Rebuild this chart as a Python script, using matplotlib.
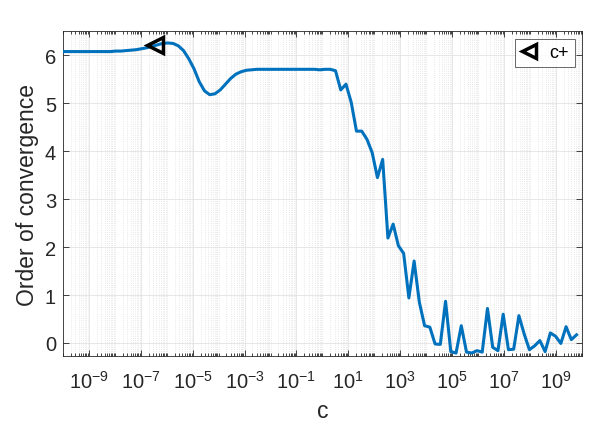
import numpy as np
import matplotlib
matplotlib.use("Agg")
import matplotlib.pyplot as plt
from matplotlib.ticker import LogLocator, FixedLocator, FuncFormatter, NullFormatter

plt.rcParams['font.family'] = ['Liberation Sans', 'DejaVu Sans']
plt.rcParams['mathtext.fontset'] = 'custom'
plt.rcParams['mathtext.rm'] = 'Liberation Sans'
plt.rcParams['mathtext.it'] = 'Liberation Sans:italic'
plt.rcParams['mathtext.bf'] = 'Liberation Sans:bold'

# ---- data ----
c = np.logspace(-10, 10, 100)
order = [
    6.08, 6.08, 6.08, 6.08, 6.08, 6.08, 6.08, 6.08, 6.08, 6.08,   # 0-9
    6.09, 6.09, 6.10, 6.11, 6.12, 6.14, 6.16, 6.19, 6.22, 6.25,   # 10-19
    6.26, 6.25, 6.20, 6.10, 5.93, 5.72, 5.45, 5.26, 5.18, 5.20,   # 20-29
    5.28, 5.40, 5.52, 5.61, 5.66, 5.69, 5.70, 5.71, 5.71, 5.71,   # 30-39
    5.71, 5.71, 5.71, 5.71, 5.71, 5.71, 5.71, 5.71, 5.71, 5.70,   # 40-49
    5.71, 5.71, 5.68, 5.28, 5.40, 5.02, 4.42, 4.42, 4.25, 3.97,   # 50-59
    3.45, 3.83, 2.19, 2.48, 2.03, 1.87, 0.94, 1.71, 0.85, 0.36,   # 60-69
    0.33, -0.02, -0.03, 0.87, -0.18, -0.21, 0.36, -0.19, -0.21, -0.16,  # 70-79
    -0.19, 0.72, -0.09, -0.16, 0.60, -0.14, -0.13, 0.57, 0.19, -0.14,   # 80-89
    -0.06, 0.05, -0.18, 0.21, 0.14, -0.01, 0.34, 0.07, 0.17, np.nan,    # 90-99
]
marker_c = [3.5e-7]
marker_order = [6.21]
legend_label = "c+"
xtick_exps = [-9, -7, -5, -3, -1, 1, 3, 5, 7, 9]
yticks = [0, 1, 2, 3, 4, 5, 6]

# ---- figure ----
fig = plt.figure(figsize=(5.98, 4.27), dpi=100)
ax = fig.add_axes([0.1054, 0.163, 0.8675, 0.761])

dark = '#262626'
ax.plot(c, order, color='#0072BD', linewidth=2.2, zorder=3)
ax.plot(marker_c, marker_order, linestyle='none', marker='<', markersize=11,
        markerfacecolor='none', markeredgecolor='black', markeredgewidth=2.5,
        label=legend_label, zorder=4)

ax.set_xscale('log')
ax.set_xlim(1e-10, 1e10)
ax.set_ylim(-0.28, 6.5)

ax.xaxis.set_major_locator(FixedLocator([10.0**e for e in xtick_exps]))
ax.xaxis.set_major_formatter(FuncFormatter(lambda v, p: r'$\mathregular{10^{%d}}$' % int(round(np.log10(v)))))
ax.xaxis.set_minor_locator(LogLocator(base=10, subs=np.arange(1, 10), numticks=100))
ax.xaxis.set_minor_formatter(NullFormatter())
ax.set_yticks(yticks)

ax.tick_params(axis='both', which='both', direction='in', top=True, right=True,
               colors=dark, labelsize=14.5, width=0.6)
ax.tick_params(axis='both', which='major', length=4)
ax.tick_params(axis='x', which='minor', length=2)
ax.tick_params(axis='x', which='major', pad=10)
ax.tick_params(axis='y', which='major', pad=5)

ax.grid(True, which='major', color='#e3e3e3', linewidth=0.6, linestyle='-')
ax.grid(True, which='minor', axis='x', color='#e0e0e0', linewidth=0.6, linestyle=':')
ax.set_axisbelow(True)
for s in ax.spines.values():
    s.set_color(dark)
    s.set_linewidth(0.6)

ax.set_xlabel('c', fontsize=16.5, color=dark, labelpad=5)
ax.set_ylabel('Order of convergence', fontsize=16.5, color=dark, labelpad=4)

leg = ax.legend(loc='upper right', fontsize=13, frameon=True, fancybox=False,
                handlelength=1.0, handletextpad=0.6, borderpad=0.32,
                borderaxespad=0.4, markerscale=0.95)
leg.get_frame().set_edgecolor(dark)
leg.get_frame().set_linewidth(0.6)

fig.savefig('out.png', dpi=100)
